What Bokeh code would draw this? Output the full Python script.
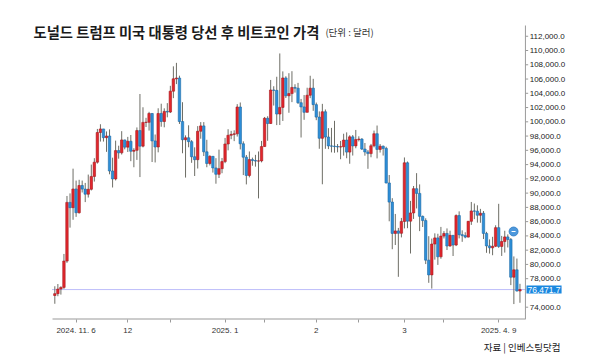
from bokeh.plotting import figure
from bokeh.models import Range1d, FixedTicker, Label, Title, ColumnDataSource
from bokeh.core.properties import value
from bokeh.embed import file_html
from bokeh.resources import INLINE

# Daily candles, 2024-11-07 .. 2025-04-09 (index 0..153)
opens = [75640, 75900, 76550, 76780, 80470, 88700, 87960, 90580, 87250, 91070,
         90560, 89850, 90540, 92340, 94340, 98500, 99000, 97780, 98010, 93100,
         91990, 95960, 95650, 97460, 96450, 97280, 95870, 96000, 98770, 96590,
         99920, 99930, 101170, 97320, 96470, 101170, 100040, 101460, 101370, 104300,
         106030, 106140, 100040, 97490, 97760, 97220, 95100, 94690, 98680, 99430,
         95790, 94160, 95160, 93530, 92640, 93430, 94420, 96890, 98110, 98240,
         98310, 102080, 96920, 95040, 92480, 94700, 94570, 94490, 94520, 96530,
         100500, 99760, 104460, 104410, 101090, 102020, 106150, 103650, 103960, 104820,
         104710, 102680, 102090, 101330, 103730, 104720, 102410, 100660, 97690, 101410,
         97870, 96620, 96590, 96530, 96480, 96500, 97440, 95750, 97890, 96620,
         97510, 97580, 96180, 95770, 95540, 96640, 98330, 96130, 96580, 96270,
         91420, 88740, 84350, 84700, 84370, 86030, 94250, 86070, 87220, 90620,
         89960, 86740, 86150, 80600, 78530, 82860, 83720, 81070, 83970, 84340,
         82580, 84080, 82720, 86850, 84170, 84040, 83830, 86050, 87500, 87470,
         86900, 87180, 84350, 82600, 82330, 82550, 85160, 82520, 83210, 83860,
         83500, 78210, 79240, 76270]
highs = [76940, 77250, 76930, 81470, 89600, 89960, 93430, 91760, 91870, 91760,
         91430, 92600, 94000, 94900, 99000, 99660, 99010, 98650, 98940, 94970,
         97360, 96650, 98690, 97500, 97890, 98150, 96300, 99210, 103900, 102040,
         100560, 101400, 101220, 98220, 101900, 102540, 101890, 102620, 105050, 107780,
         108270, 106470, 102750, 98100, 99510, 97440, 96420, 99400, 99960, 99960,
         97480, 95310, 95170, 94900, 96100, 94930, 97740, 98960, 98730, 98810,
         102480, 102710, 97260, 95350, 95840, 94980, 95370, 95840, 97320, 100680,
         100780, 105870, 104990, 106320, 109590, 107070, 106390, 106820, 107100, 105270,
         105460, 103210, 103750, 104780, 106460, 106030, 102700, 101460, 102520, 101730,
         99110, 99150, 100140, 96880, 97320, 98330, 98520, 98120, 98150, 98860,
         97970, 97710, 97030, 96050, 96900, 98770, 99480, 96880, 96670, 96500,
         92540, 89290, 87080, 85120, 86520, 95000, 94430, 88910, 91000, 92800,
         91220, 86850, 86470, 83960, 83620, 84360, 84300, 85260, 84670, 85050,
         84730, 84080, 87020, 87440, 84780, 84510, 86090, 88760, 88540, 88290,
         87790, 87490, 84570, 83510, 83870, 85490, 88500, 84000, 84720, 84210,
         83700, 81120, 80820, 77280]
lows = [74480, 75540, 75770, 76570, 80220, 85160, 86260, 86670, 87130, 90090,
        88740, 89380, 90370, 91620, 94140, 97230, 97230, 95790, 92640, 90790,
        91780, 94830, 95410, 96140, 95770, 94480, 93630, 94660, 92250, 96420,
        99270, 98770, 94360, 94300, 95720, 99310, 99230, 100630, 101230, 103320,
        105290, 99700, 95590, 92180, 96430, 94250, 92400, 93450, 97630, 95200,
        93630, 93880, 92880, 91320, 92120, 92790, 94200, 96000, 97560, 97290,
        97930, 96130, 92530, 91220, 92210, 93840, 93710, 89260, 94310, 96500,
        97340, 99700, 102280, 99540, 99550, 100120, 103340, 101270, 102760, 104100,
        102510, 97800, 100280, 101320, 103320, 101540, 100230, 96220, 91240, 96210,
        96170, 95710, 95660, 95720, 94750, 95260, 94890, 94120, 95270, 96290,
        97250, 96050, 95250, 93410, 95030, 96420, 94870, 95690, 95270, 91370,
        86050, 82130, 82720, 78260, 83790, 85050, 85080, 81530, 86380, 87850,
        84670, 85250, 80050, 77420, 76610, 80670, 79930, 80800, 83640, 82020,
        82490, 81180, 82570, 83650, 83170, 83670, 83790, 85540, 86350, 85860,
        85840, 83560, 81630, 81520, 81290, 82430, 82320, 81190, 81660, 82380,
        77100, 74440, 76200, 74620]
closes = [75900, 76550, 76780, 80470, 88700, 87960, 90580, 87250, 91070, 90560,
          89850, 90540, 92340, 94340, 98500, 99000, 97780, 98010, 93100, 91990,
          95960, 95650, 97460, 96450, 97280, 95870, 96000, 98770, 96590, 99920,
          99930, 101170, 97320, 96470, 101170, 100040, 101460, 101370, 104300, 106030,
          106140, 100040, 97490, 97760, 97220, 95100, 94690, 98680, 99430, 95790,
          94160, 95160, 93530, 92640, 93430, 94420, 96890, 98110, 98240, 98310,
          102080, 96920, 95040, 92480, 94700, 94570, 94490, 94520, 96530, 100500,
          99760, 104460, 104410, 101090, 102020, 106150, 103650, 103960, 104820, 104710,
          102680, 102090, 101330, 103730, 104720, 102410, 100660, 97690, 101410, 97870,
          96620, 96590, 96530, 96480, 96500, 97440, 95750, 97890, 96620, 97510,
          97580, 96180, 95770, 95540, 96640, 98330, 96130, 96580, 96270, 91420,
          88740, 84350, 84700, 84370, 86030, 94250, 86070, 87220, 90620, 89960,
          86740, 86150, 80600, 78530, 82860, 83720, 81070, 83970, 84340, 82580,
          84080, 82720, 86850, 84170, 84040, 83830, 86050, 87500, 87470, 86900,
          87180, 84350, 82600, 82330, 82550, 85160, 82520, 83210, 83860, 83500,
          78210, 79240, 76270, 76471.7]

last_price = 76471.7
last_price_text = "76,471.7"

x_tick_positions = [7, 24, 56, 86, 115, 146]
x_tick_labels = ["2024. 11. 6", "12", "2025. 1", "2", "3", "2025. 4. 9"]
x_minor_ticks = [38, 69, 100, 128]
y_ticks = [74000, 78000, 80000, 82000, 84000, 86000, 88000, 90000, 92000, 94000,
           96000, 98000, 100000, 102000, 104000, 106000, 108000, 110000, 112000]
y_tick_labels = [f"{v:,.1f}" for v in y_ticks]

title_text = "도널드 트럼프 미국 대통령 당선 후 비트코인 가격"
unit_text = "(단위 : 달러)"
source_text = "자료 | 인베스팅닷컴"

event_x = 150.9
event_y = 84617

# ---- layout / style constants ----
RED = "#e3262c"
BLUE = "#2e8fd8"
AXIS_GREY = "#9a9a9a"
X_START, X_END = -8.0, 171.6          # frame extent in day-index units
Y0, Y1 = 72275, 114490                # frame extent in dollars
AXIS_LEFT, AXIS_RIGHT = -0.76, 154.8  # extent of the drawn price axis box
AXIS_TOP = 113510
TICK_LEN = 0.9

xs = list(range(len(closes)))
up = [c >= o for o, c in zip(opens, closes)]
src = ColumnDataSource(dict(
    x=xs,
    high=highs,
    low=lows,
    top=[max(o, c) for o, c in zip(opens, closes)],
    bottom=[min(o, c) for o, c in zip(opens, closes)],
    fill=[RED if u else BLUE for u in up],
    edge=["#a51a1f" if u else "#1d6aa6" for u in up],
))
ysrc = ColumnDataSource(dict(
    y=y_ticks, label=y_tick_labels,
    x0=[AXIS_RIGHT] * len(y_ticks), x1=[AXIS_RIGHT + TICK_LEN] * len(y_ticks),
    xl=[AXIS_RIGHT + 1.4] * len(y_ticks),
))

p = figure(width=590, height=358,
           x_range=Range1d(X_START, X_END), y_range=Range1d(Y0, Y1),
           y_axis_location=None, output_backend="svg", toolbar_location=None,
           min_border_left=30, min_border_right=14, min_border_top=18, min_border_bottom=39)
p.outline_line_color = None
p.xgrid.visible = False
p.ygrid.visible = False
p.background_fill_color = "white"
p.border_fill_color = "white"

# last-price dotted line
p.segment(x0=AXIS_LEFT, y0=last_price, x1=AXIS_RIGHT, y1=last_price,
          line_color="#7a7af5", line_dash="1 1", line_width=1)

# candles
p.segment(x0="x", y0="high", x1="x", y1="low", source=src, line_color="#6e6e66", line_width=1)
p.vbar(x="x", width=0.8, top="top", bottom="bottom", source=src,
       fill_color="fill", line_color="edge", line_width=0.6)

# event marker
p.scatter([event_x], [event_y], size=9, fill_color="#4d98dc", line_color="#2f7cc4", line_width=0.8)
p.scatter([event_x], [event_y], marker="dash", size=4, line_color="white", line_width=1.2)

# price axis (right side)
p.segment(x0=AXIS_RIGHT, y0=Y0, x1=AXIS_RIGHT, y1=AXIS_TOP, line_color=AXIS_GREY, line_width=1)
p.segment(x0="x0", y0="y", x1="x1", y1="y", source=ysrc, line_color=AXIS_GREY, line_width=1)
p.text(x="xl", y="y", text="label", source=ysrc, text_font=value("Liberation Sans"),
       text_font_size=value("8px"), text_color="#222222", text_baseline="middle", text_align="left")
# bottom baseline
p.segment(x0=AXIS_LEFT, y0=Y0, x1=AXIS_RIGHT, y1=Y0, line_color=AXIS_GREY, line_width=2)

xa = p.xaxis[0]
xa.ticker = FixedTicker(ticks=x_tick_positions, minor_ticks=x_minor_ticks)
xa.major_label_overrides = {k: v for k, v in zip(x_tick_positions, x_tick_labels)}
xa.axis_line_color = None
xa.major_tick_line_color = AXIS_GREY
xa.minor_tick_line_color = AXIS_GREY
xa.major_tick_out = 3
xa.major_tick_in = 0
xa.minor_tick_out = 3
xa.minor_tick_in = 0
xa.major_label_standoff = 3
xa.major_label_text_font = "Liberation Sans"
xa.major_label_text_font_size = "8px"
xa.major_label_text_color = "#333333"

p.add_layout(Label(x=AXIS_RIGHT + 0.35, y=last_price, text=last_price_text, text_color="white",
                   text_font="Liberation Sans", text_font_size="8.5px",
                   text_baseline="middle", text_align="left",
                   background_fill_color="#1a88df", padding=1))

p.add_layout(Label(x=-7.0, y=112666, text=title_text, text_font="Noto Sans CJK KR",
                   text_font_style="bold", text_font_size="14.3px", text_color="#1a1a1a",
                   text_baseline="middle", text_align="left"))
p.add_layout(Label(x=89.0, y=112560, text=unit_text, text_font="Noto Sans CJK KR",
                   text_font_size="9.5px", text_color="#333333",
                   text_baseline="middle", text_align="left"))

p.add_layout(Title(text=source_text, align="right", offset=16, standoff=0,
                   text_font="Noto Sans CJK KR", text_font_size="9.5px",
                   text_font_style="normal", text_color="#222222"), "below")

open("out.html", "w").write(file_html(p, INLINE))
